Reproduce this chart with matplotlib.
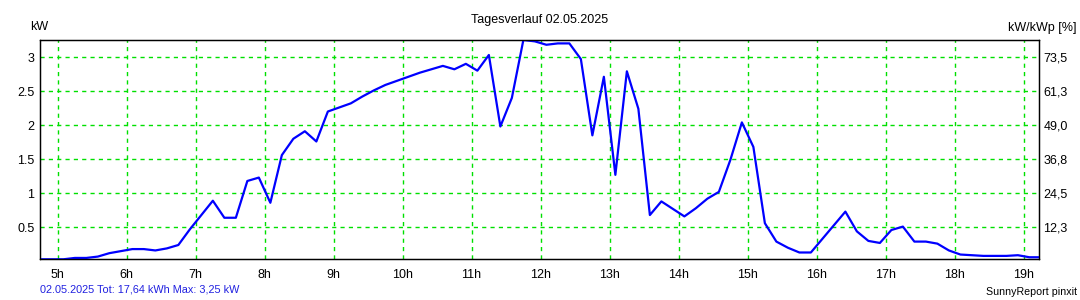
import matplotlib.pyplot as plt

plt.rcParams['font.family'] = ['Liberation Sans', 'DejaVu Sans']

# power readings every 10 minutes, first at 4:45
start_hour = 4.75
step_hours = 10 / 60
power_kw = [
    0.03, 0.03, 0.03, 0.05, 0.05, 0.07, 0.12, 0.15,             # 4:45 - 5:55
    0.18, 0.18, 0.16, 0.19, 0.24, 0.47,                         # 6:05 - 6:55
    0.68, 0.89, 0.64, 0.64, 1.18, 1.23,                         # 7:05 - 7:55
    0.86, 1.56, 1.80, 1.91, 1.76, 2.20,                         # 8:05 - 8:55
    2.26, 2.32, 2.42, 2.51, 2.59, 2.65,                         # 9:05 - 9:55
    2.71, 2.77, 2.82, 2.87, 2.82, 2.90,                         # 10:05 - 10:55
    2.80, 3.03, 1.98, 2.40, 3.25, 3.23,                         # 11:05 - 11:55
    3.18, 3.20, 3.20, 2.97, 1.85, 2.71,                         # 12:05 - 12:55
    1.27, 2.79, 2.24, 0.68, 0.88, 0.77,                         # 13:05 - 13:55
    0.66, 0.78, 0.92, 1.02, 1.49, 2.04,                         # 14:05 - 14:55
    1.68, 0.56, 0.29, 0.20, 0.13, 0.13,                         # 15:05 - 15:55
    0.33, 0.53, 0.73, 0.44, 0.30, 0.27,                         # 16:05 - 16:55
    0.46, 0.51, 0.29, 0.29, 0.26, 0.16,                         # 17:05 - 17:55
    0.10, 0.09, 0.08, 0.08, 0.08, 0.09,                         # 18:05 - 18:55
    0.06, 0.06,                                                 # 19:05 - 19:15
]
hours = [start_hour + i * step_hours for i in range(len(power_kw))]

hour_ticks = list(range(5, 20))
hour_labels = ['%dh' % h for h in hour_ticks]
kw_ticks = [0.5, 1, 1.5, 2, 2.5, 3]
kw_labels = ['0.5', '1', '1.5', '2', '2.5', '3']
pct_labels = ['12,3', '24,5', '36,8', '49,0', '61,3', '73,5']

fig = plt.figure(figsize=(10.8, 3.0), dpi=100)
ax = fig.add_axes([40 / 1080, 1 - 259.3 / 300, 999.3 / 1080, 219.3 / 300])

ax.plot(hours, power_kw, color='#0000ff', linewidth=1.6, zorder=3)

ax.set_xlim(4.745, 19.227)
ax.set_ylim(0.03, 3.25)
ax.set_xticks(hour_ticks)
ax.set_xticklabels(hour_labels)
ax.set_yticks(kw_ticks)
ax.set_yticklabels(kw_labels)
ax.grid(True, color='#00e000', linestyle=(0, (3, 3)), linewidth=1.0)
ax.tick_params(axis='both', length=0, labelsize=9)
ax.tick_params(axis='x', pad=7)
ax.tick_params(axis='y', pad=4)
for s in ax.spines.values():
    s.set_color('black')
    s.set_linewidth(0.9)

# percent of peak power on the right side
ax2 = ax.twinx()
ax2.set_ylim(ax.get_ylim())
ax2.set_yticks(kw_ticks)
ax2.set_yticklabels(pct_labels)
ax2.tick_params(axis='y', length=0, labelsize=9, pad=3)
for s in ax2.spines.values():
    s.set_color('black')
    s.set_linewidth(0.9)

fig.text(0.5, 1 - 20 / 300, 'Tagesverlauf 02.05.2025', ha='center', va='center', fontsize=9)
fig.text(30 / 1080, 1 - 27 / 300, 'kW', ha='left', va='center', fontsize=9)
fig.text(1077 / 1080, 1 - 28 / 300, 'kW/kWp [%]', ha='right', va='center', fontsize=9)
fig.text(40 / 1080, 1 - 289 / 300, '02.05.2025 Tot: 17,64 kWh Max: 3,25 kW',
         ha='left', va='center', fontsize=7.8, color='#2020e0')
fig.text(1077 / 1080, 1 - 292 / 300, 'SunnyReport pinxit', ha='right', va='center', fontsize=7.7)

fig.savefig('out.png', dpi=100)
